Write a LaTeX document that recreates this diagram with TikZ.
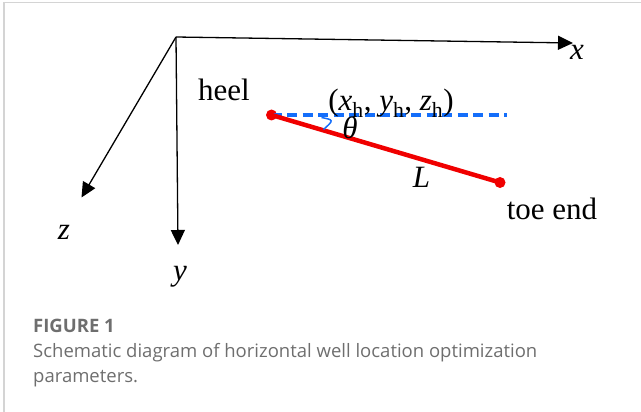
\documentclass[tikz,border=0pt]{standalone}
\usepackage{fontspec}
\setmainfont{Liberation Serif}
\newfontfamily\capfont{Open Sans}
\usepackage{xcolor}
\usetikzlibrary{arrows.meta, positioning, calc}

\definecolor{framegray}{RGB}{212,212,212}
\definecolor{capgray}{RGB}{110,110,110}
\definecolor{wellred}{RGB}{240,0,0}
\definecolor{dashblue}{RGB}{20,110,250}

\tikzset{
  axis/.style={line width=1.3pt, -{Triangle[length=15pt, width=14pt]}},
  lbl/.style={font=\fontsize{31}{34}\selectfont, anchor=base, inner sep=0pt},
  captext/.style={font=\capfont\fontsize{18.5}{21}\selectfont, text=capgray, anchor=base west, inner sep=0pt},
  welldot/.style={circle, fill=wellred, inner sep=0pt, minimum size=11pt}
}

\begin{document}
\begin{tikzpicture}[x=1pt, y=-1pt]
  \useasboundingbox (0,0) rectangle (641,412);
  % frame
  \draw[framegray, line width=1.5pt] (4,412) -- (4,2.5) -- (641,2.5);

  % axes
  \coordinate (O) at (176,37);
  \coordinate (xend) at (573,43);
  \coordinate (yend) at (178,245);
  \coordinate (zend) at (81.5,197.5);
  \draw[axis] (O) -- (xend);
  \draw[axis] (O) -- (yend);
  \draw[axis] (O) -- (zend);
  \node[lbl] (xlab) at (577,60) {\textit{x}};
  \node[lbl] (ylab) at (180,280) {\textit{y}};
  \node[lbl] (zlab) at (64,239) {\textit{z}};

  % well
  \node[welldot] (heel) at (271.5,115) {};
  \node[welldot] (toe) at (500,182.5) {};
  \coordinate (dashend) at (507,115);
  \draw[dashblue, line width=3.6pt, dash pattern=on 10pt off 5.5pt] (heel.center) -- (dashend);
  \draw[wellred, line width=4.5pt] (heel.center) -- (toe.center);
  \draw[dashblue, line width=1.5pt] (321.5,117.5) .. controls (334,120) .. (323.5,129.5);

  % labels
  \node[lbl] (heellab) at (224,101) {heel};
  \node[lbl] (toelab) at (552,219) {toe end};
  \node[lbl] (hpos) at (391,111) {(\textit{x}\textsubscript{h}, \textit{y}\textsubscript{h}, \textit{z}\textsubscript{h})};
  \node[lbl] (theta) at (350,139) {\textit{θ}};
  \node[lbl] (Llab) at (421.5,188) {\textit{L}};

  % caption
  \node[captext, font=\capfont\bfseries\fontsize{18.5}{21}\selectfont] (fig) at (33,332) {FIGURE 1};
  \node[captext] (cap1) at (33,357) {Schematic diagram of horizontal well location optimization};
  \node[captext] (cap2) at (33,382) {parameters.};
\end{tikzpicture}
\end{document}
